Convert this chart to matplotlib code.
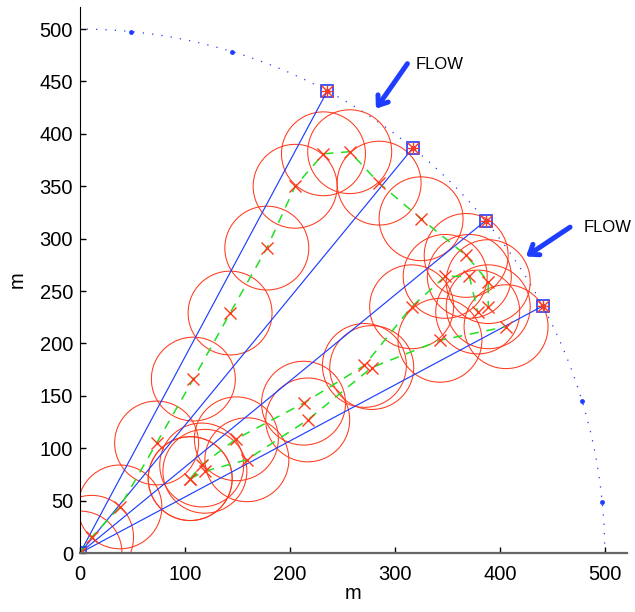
import numpy as np
import matplotlib
matplotlib.use("Agg")
import matplotlib.pyplot as plt
from matplotlib.patches import Circle

plt.rcParams['font.family'] = ['Liberation Sans', 'DejaVu Sans']

# ---- data (metres) ----
ring_radius = 500
ring_angles_deg = [84.375, 73.125, 61.875, 50.625, 39.375, 28.125, 16.875, 5.625]
target_angles_deg = [61.875, 50.625, 39.375, 28.125]
circle_radius = 40

path1_x = [0, 11, 38, 73, 108, 143, 178, 205, 232, 257, 285, 325, 368, 389, 389]
path1_y = [0, 15, 44, 105, 166, 229, 291, 350, 381, 383, 353, 319, 284, 259, 235]
path2_x = [105, 116, 149, 213, 271, 316, 348, 371, 379]
path2_y = [71, 84, 109, 143, 179, 235, 264, 264, 230]
path3_x = [105, 119, 159, 217, 278, 343, 406]
path3_y = [71, 78, 89, 127, 177, 203, 216]

flow_tails = [(312, 467), (467, 311)]
flow_heads = [(282, 424), (425, 283)]
flow_texts = [(320, 466), (480, 311)]
flow_label = "FLOW"

x_ticks = [0, 100, 200, 300, 400, 500]
y_ticks = [0, 50, 100, 150, 200, 250, 300, 350, 400, 450, 500]

# ---- colours ----
BLUE = '#1f3dff'
RED = '#ff3a1c'
GREEN = '#1fe01f'

fig = plt.figure(figsize=(6.35, 6.12), dpi=100)
ax = fig.add_axes([0.126, 0.0964, 0.861, 0.892])

# dotted ring
th = np.linspace(0, np.pi / 2, 400)
ax.plot(ring_radius * np.cos(th), ring_radius * np.sin(th), color=BLUE,
        lw=0.9, linestyle=(0, (1, 6.5)), zorder=1)
ra = np.radians(ring_angles_deg)
ax.plot(ring_radius * np.cos(ra), ring_radius * np.sin(ra), 'o', color=BLUE,
        ms=3.5, mec='none', zorder=6)

# blue rays to targets
ta = np.radians(target_angles_deg)
tx = ring_radius * np.cos(ta)
ty = ring_radius * np.sin(ta)
for x1, y1 in zip(tx, ty):
    ax.plot([0, x1], [0, y1], color=BLUE, lw=0.85, zorder=3)

# red circles + green dashed paths + centre markers
for px, py in [(path1_x, path1_y), (path2_x, path2_y), (path3_x, path3_y)]:
    for cx, cy in zip(px, py):
        ax.add_patch(Circle((cx, cy), circle_radius, fill=False, ec=RED,
                            lw=0.75, zorder=2))
    ax.plot(px, py, color=GREEN, lw=1.1, linestyle=(0, (6, 5)), zorder=4)
    ax.plot(px, py, 'x', color=RED, ms=8, mew=1.0, zorder=5)

# target & origin markers
sx = list(tx) + [0]
sy = list(ty) + [0]
ax.plot(sx, sy, 's', mfc='none', mec=BLUE, ms=8, mew=1.2, zorder=7)
ax.plot(sx, sy, 'x', color=RED, ms=8, mew=1.0, zorder=7)
ax.plot(sx, sy, '+', color=RED, ms=8, mew=1.0, zorder=7)

# flow arrows
for (t0, t1), (h0, h1), (lx, ly) in zip(flow_tails, flow_heads, flow_texts):
    ax.annotate('', xy=(h0, h1), xytext=(t0, t1),
                arrowprops=dict(arrowstyle='->,head_length=0.6,head_width=0.45',
                                color=BLUE, lw=3.6, shrinkA=0, shrinkB=0))
    ax.text(lx, ly, flow_label, fontsize=12, ha='left', va='center', color='black')

ax.set_xlim(0, 521)
ax.set_ylim(0, 521)
ax.set_xticks(x_ticks)
ax.set_yticks(y_ticks)
ax.tick_params(direction='in', length=4, labelsize=14.5, width=1)
ax.tick_params(axis='x', pad=8.5)
ax.tick_params(axis='y', pad=5)
ax.spines['top'].set_visible(False)
ax.spines['right'].set_visible(False)
ax.spines['left'].set_color('black')
ax.spines['bottom'].set_color('#666666')
ax.spines['bottom'].set_linewidth(1.6)
ax.set_xlabel('m', fontsize=14.5, labelpad=0)
ax.set_ylabel('m', fontsize=14.5, labelpad=9)
for sp in ax.spines.values():
    sp.set_zorder(8)

fig.savefig('out.png', dpi=100)
